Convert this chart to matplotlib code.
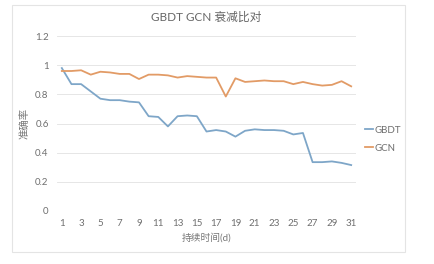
import numpy as np
import matplotlib
matplotlib.use("Agg")
import matplotlib.pyplot as plt
from matplotlib.patches import Rectangle

plt.rcParams['font.family'] = ['Lato', 'Noto Sans CJK SC', 'DejaVu Sans']

days = list(range(1, 32))
gbdt = [0.98, 0.87, 0.87, 0.82, 0.77, 0.76, 0.76, 0.75, 0.745, 0.65,
        0.645, 0.58, 0.65, 0.655, 0.65, 0.545, 0.555, 0.545, 0.51, 0.55,
        0.56, 0.555, 0.555, 0.55, 0.525, 0.535, 0.335, 0.335, 0.34, 0.33,
        0.315]
gcn = [0.96, 0.96, 0.965, 0.935, 0.955, 0.95, 0.94, 0.94, 0.905, 0.935,
       0.935, 0.93, 0.915, 0.925, 0.92, 0.915, 0.915, 0.785, 0.91, 0.885,
       0.89, 0.895, 0.89, 0.89, 0.87, 0.885, 0.87, 0.86, 0.865, 0.89,
       0.855]
yticks = [0, 0.2, 0.4, 0.6, 0.8, 1, 1.2]
ylabels = ['0', '0.2', '0.4', '0.6', '0.8', '1', '1.2']

fig = plt.figure(figsize=(4.34, 2.64), dpi=100)
fig.patches.append(Rectangle((12/434, 1-252/264), 393/434, 247/264,
                             transform=fig.transFigure, fill=False,
                             edgecolor='#e4e4e4', lw=0.8))

ax = fig.add_axes([57/434, 1-211/264, 299/434, 175/264])
ax.plot(days, gbdt, color='#7ea6c8', lw=1.3, label='GBDT')
ax.plot(days, gcn, color='#e29b66', lw=1.3, label='GCN')

ax.set_xlim(0.5, 31.5)
ax.set_ylim(0, 1.2)
ax.set_yticks(yticks)
ax.set_yticklabels(ylabels)
ax.set_xticks(days[::2])
ax.grid(axis='y', color='#e6e6e6', lw=0.7)
ax.set_axisbelow(True)
for s in ax.spines.values():
    s.set_visible(False)
ax.tick_params(length=0, labelsize=7, colors='#6f6f6f', pad=6)

ax.set_title('GBDT GCN 衰减比对', fontsize=8.5, color='#666666', pad=11)
ax.set_xlabel('持续时间(d)', fontsize=7, color='#777777', labelpad=3)
ax.set_ylabel('准确率', fontsize=7.5, color='#777777', labelpad=4)

ax.legend(loc='center left', bbox_to_anchor=(1.01, 0.41), frameon=False,
          fontsize=7, labelcolor='#6f6f6f', handlelength=0.8,
          handletextpad=0.2, labelspacing=0.9, borderaxespad=0.2)

fig.savefig('out.png', dpi=100)
